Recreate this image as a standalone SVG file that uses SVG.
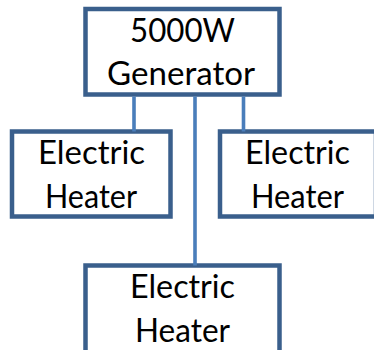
<svg xmlns="http://www.w3.org/2000/svg" width="374" height="350" viewBox="0 0 374 350">
<style>
.box{fill:#ffffff;stroke:#3A5F8C;stroke-width:4.5}
.lbl{font-family:Lato,"Open Sans","Liberation Sans",sans-serif;font-size:33px;fill:#000000;text-anchor:middle}
.wire{stroke:#4A7EBB;stroke-width:3.6;fill:none}
</style>
<rect width="374" height="350" fill="#ffffff"/>
<g id="generator">
<rect class="box" x="85.5" y="9" width="194" height="85.5"/>
<text class="lbl" x="182.5" y="41.7" textLength="105" lengthAdjust="spacingAndGlyphs">5000W</text>
<text class="lbl" x="181" y="85" textLength="148" lengthAdjust="spacingAndGlyphs">Generator</text>
</g>
<g id="heater-left">
<rect class="box" x="12" y="131.5" width="158.5" height="85"/>
<text class="lbl" x="91.5" y="163.5" textLength="107" lengthAdjust="spacingAndGlyphs">Electric</text>
<text class="lbl" x="91" y="208" textLength="92" lengthAdjust="spacingAndGlyphs">Heater</text>
</g>
<g id="heater-right">
<rect class="box" x="220" y="131.5" width="156" height="85"/>
<text class="lbl" x="297.5" y="163.5" textLength="105" lengthAdjust="spacingAndGlyphs">Electric</text>
<text class="lbl" x="297.5" y="208" textLength="93" lengthAdjust="spacingAndGlyphs">Heater</text>
</g>
<g id="heater-bottom">
<rect class="box" x="85.5" y="265.5" width="194" height="90"/>
<text class="lbl" x="182.5" y="297.7" textLength="105" lengthAdjust="spacingAndGlyphs">Electric</text>
<text class="lbl" x="182.5" y="341.7" textLength="95" lengthAdjust="spacingAndGlyphs">Heater</text>
</g>
<g id="connectors">
<line class="wire" x1="134" y1="96.5" x2="134" y2="131.5"/>
<line class="wire" x1="195" y1="96.5" x2="195" y2="265.5"/>
<line class="wire" x1="243.5" y1="96.5" x2="243.5" y2="131.5"/>
</g>
</svg>
